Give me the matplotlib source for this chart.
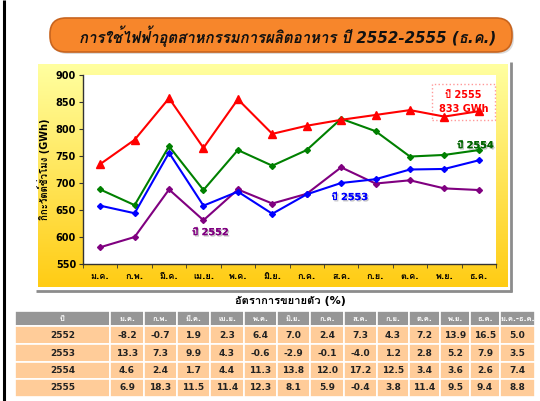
import numpy as np
import matplotlib
matplotlib.use("Agg")
import matplotlib.pyplot as plt
from matplotlib import font_manager as fm
from matplotlib.ft2font import FT2Font
from matplotlib.patches import FancyBboxPatch, Rectangle
import matplotlib.patheffects as pe

# ---- data ----
months = ["ม.ค.", "ก.พ.", "มี.ค.", "เม.ย.", "พ.ค.", "มิ.ย.",
          "ก.ค.", "ส.ค.", "ก.ย.", "ต.ค.", "พ.ย.", "ธ.ค."]
y2552 = [581, 600, 688, 631, 688, 662, 680, 729, 699, 705, 690, 687]
y2553 = [658, 644, 756, 658, 684, 643, 679, 700, 707, 725, 726, 742]
y2554 = [688, 659, 768, 687, 761, 732, 761, 819, 796, 749, 752, 761]
y2555 = [735, 780, 857, 765, 855, 791, 806, 817, 826, 835, 823, 833]

table_title = "อัตราการขยายตัว (%)"
table_cols = ["ปี"] + months + ["ม.ค.-ธ.ค."]
table_years = ["2552", "2553", "2554", "2555"]
growth = [
    ["-8.2", "-0.7", "1.9", "2.3", "6.4", "7.0", "2.4", "7.3", "4.3", "7.2", "13.9", "16.5", "5.0"],
    ["13.3", "7.3", "9.9", "4.3", "-0.6", "-2.9", "-0.1", "-4.0", "1.2", "2.8", "5.2", "7.9", "3.5"],
    ["4.6", "2.4", "1.7", "4.4", "11.3", "13.8", "12.0", "17.2", "12.5", "3.4", "3.6", "2.6", "7.4"],
    ["6.9", "18.3", "11.5", "11.4", "12.3", "8.1", "5.9", "-0.4", "3.8", "11.4", "9.5", "9.4", "8.8"],
]

title = "การใช้ไฟฟ้าอุตสาหกรรมการผลิตอาหาร ปี 2552-2555 (ธ.ค.)"
ylabel = "กิกะวัตต์ชั่วโมง (GWh)"


def find_thai_fonts():
    # look for any installed family that has Thai glyphs
    names = []
    for f in fm.fontManager.ttflist:
        try:
            cmap = FT2Font(f.fname).get_charmap()
        except Exception:
            continue
        if 0x0E01 in cmap and f.name not in names:
            names.append(f.name)
    return names


thai = find_thai_fonts()
# latin/digits from DejaVu (bold works), thai glyphs fall back to the thai family
plt.rcParams['font.family'] = ['DejaVu Sans'] + thai[:1]

W, H = 540, 401
fig = plt.figure(figsize=(W / 100, H / 100), dpi=100)
fig.patch.set_facecolor("white")

# decoration layer in pixel coordinates
deco = fig.add_axes([0, 0, 1, 1], zorder=0)
deco.set_xlim(0, W)
deco.set_ylim(H, 0)
deco.axis("off")

# left black border
deco.plot([4, 4], [0, H], color="black", lw=2.2, solid_capstyle="butt")

# title pill
deco.add_patch(FancyBboxPatch((52, 20), 462, 34, boxstyle="round,pad=0,rounding_size=16",
                              fc="#B8B8B8", ec="none", alpha=0.5))
deco.add_patch(FancyBboxPatch((50, 18), 462, 34, boxstyle="round,pad=0,rounding_size=16",
                              fc="#F7862B", ec="#C8641E", lw=1.2))
deco.text(288, 36, title, ha="center", va="center", fontsize=10.8, fontweight="bold",
          fontstyle="italic", color="#111111")

# yellow gradient panel with gray shadow
grad = np.linspace(0, 1, 256)[:, None]
c_top = np.array([255, 255, 160]) / 255
c_bot = np.array([255, 204, 20]) / 255
img = c_top[None, None, :] * (1 - grad[:, :, None]) + c_bot[None, None, :] * grad[:, :, None]
img = np.repeat(img, 2, axis=1)
deco.imshow(img, extent=(38, 508, 287, 64), aspect="auto", zorder=1)
deco.plot([511, 511], [62, 292], color="#8C8C8C", lw=2, solid_capstyle="butt")
deco.plot([36, 512], [291, 291], color="#8C8C8C", lw=2, solid_capstyle="butt")

# ---- chart ----
ax = fig.add_axes([83 / W, 1 - 264 / H, (496 - 83) / W, (264 - 75) / H], zorder=2)
ax.set_facecolor("white")
x = np.arange(len(months))
ax.plot(x, y2555, color="#FF0000", lw=1.5, marker="^", ms=5.5, zorder=5)
ax.plot(x, y2554, color="#008000", lw=1.5, marker="D", ms=3, zorder=4)
ax.plot(x, y2553, color="#0000FF", lw=1.5, marker="D", ms=3, zorder=4)
ax.plot(x, y2552, color="#800080", lw=1.5, marker="D", ms=3, zorder=3)

ax.set_xlim(-0.5, len(months) - 0.5)
ax.set_ylim(550, 900)
ax.set_yticks(np.arange(550, 901, 50))
ax.set_xticks(x)
ax.set_xticklabels(months)
ax.set_xticks(np.arange(-0.5, len(months), 1), minor=True)
ax.tick_params(axis="x", which="major", length=0, pad=6, labelsize=6.5)
ax.tick_params(axis="x", which="minor", length=3, color="#333333")
ax.tick_params(axis="y", length=3, color="#333333", labelsize=7, pad=2)
for lab in ax.get_xticklabels() + ax.get_yticklabels():
    lab.set_fontweight("bold")
for s in ["top", "right"]:
    ax.spines[s].set_visible(False)
for s in ["left", "bottom"]:
    ax.spines[s].set_color("#333333")
    ax.spines[s].set_linewidth(1)
ax.set_ylabel(ylabel, fontsize=7, fontweight="bold", labelpad=4)

shadow = [pe.withSimplePatchShadow(offset=(1, -1), shadow_rgbFace="#999999", alpha=0.6), pe.Normal()]
ax.text(3.2, 609, "ปี 2552", color="#800080", fontsize=7, fontweight="bold",
        ha="center", va="center", path_effects=shadow)
ax.text(7.25, 674, "ปี 2553", color="#0000FF", fontsize=7, fontweight="bold",
        ha="center", va="center", path_effects=shadow)
ax.text(10.9, 770, "ปี 2554", color="#006400", fontsize=7, fontweight="bold",
        ha="center", va="center", path_effects=shadow)
ax.text(10.55, 850, "ปี 2555\n833 GWh", color="#FF0000", fontsize=7, fontweight="bold",
        ha="center", va="center", linespacing=1.4,
        bbox=dict(boxstyle="square,pad=0.7", fc="white", ec="#FF9999", ls=":", lw=1))

# ---- table ----
tab = fig.add_axes([0, 0, 1, 1], zorder=3)
tab.set_xlim(0, W)
tab.set_ylim(H, 0)
tab.axis("off")
tab.text(290, 301, table_title, ha="center", va="center", fontsize=8, fontweight="bold")

col_edges = [15, 110, 144, 177, 210, 244, 277, 310, 344, 377, 409, 440, 470, 500, 535]
row_edges = [311, 326, 344, 362, 379, 397]
rows = [table_cols] + [[yr] + vals for yr, vals in zip(table_years, growth)]
for r, row in enumerate(rows):
    y0, y1 = row_edges[r], row_edges[r + 1]
    for c, val in enumerate(row):
        x0, x1 = col_edges[c], col_edges[c + 1]
        fc = "#969696" if r == 0 else "#FFCC99"
        tab.add_patch(Rectangle((x0, y0), x1 - x0, y1 - y0, fc=fc, ec="white", lw=1.2))
        tab.text((x0 + x1) / 2, (y0 + y1) / 2, val, ha="center", va="center",
                 fontsize=5.5 if r == 0 else 6.5, fontweight="bold",
                 color="white" if r == 0 else "#222222")

fig.savefig("out.png", dpi=100, facecolor="white")
